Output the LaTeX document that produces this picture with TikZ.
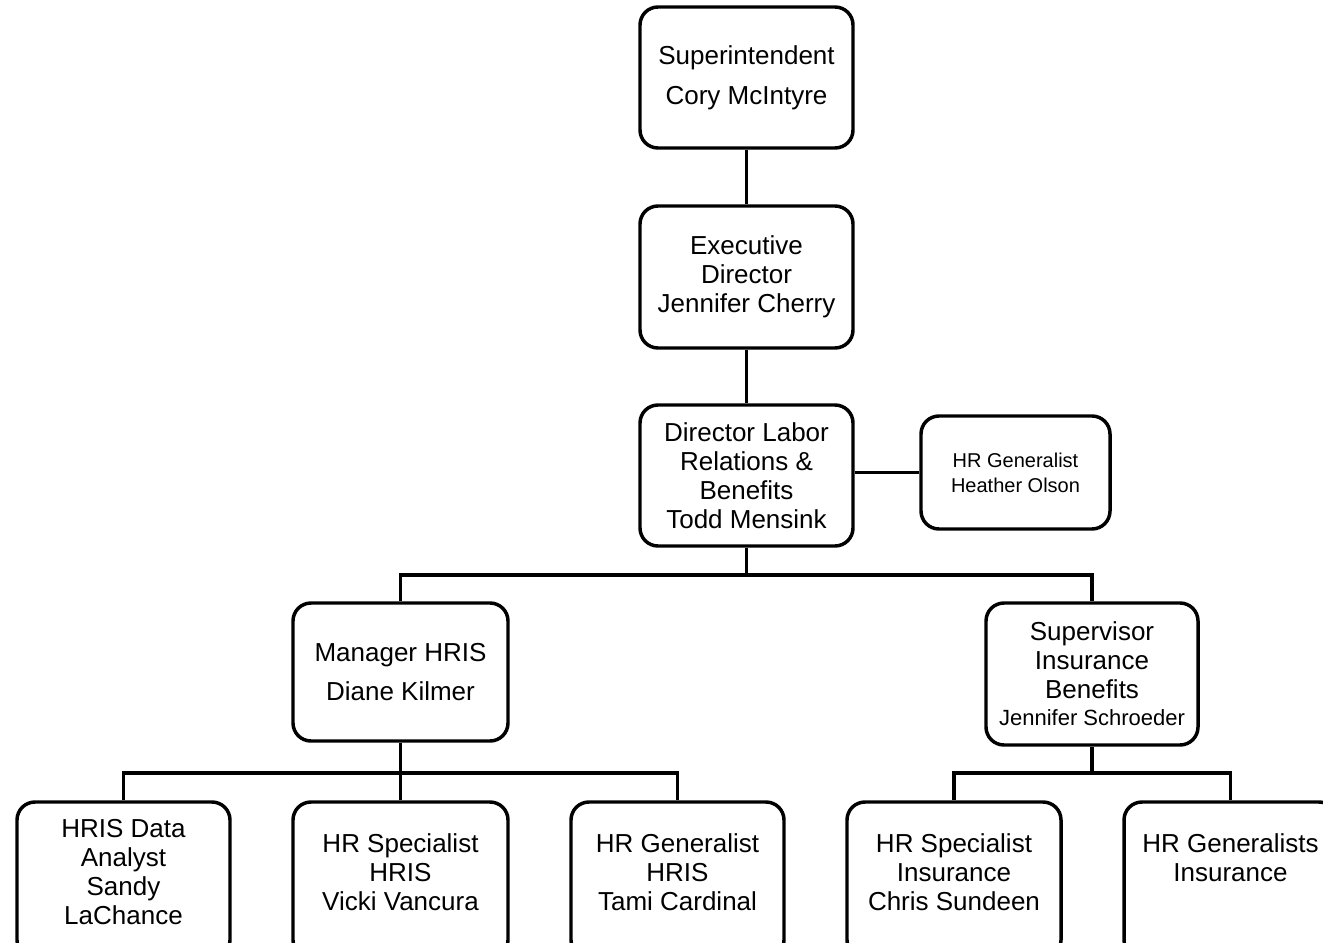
\documentclass[tikz,border=0pt]{standalone}
\usepackage{fontspec}
\setmainfont{Liberation Sans}
\begin{document}
\begin{tikzpicture}[x=0.75pt,y=-0.75pt,
  every node/.style={font=\fontsize{19.5}{21.75}\selectfont, align=center, inner sep=0pt},
  box/.style={draw=black, line width=2.6pt, rounded corners=13.5pt, fill=white},
  wide/.style={font=\fontsize{19.5}{30}\selectfont},
  small/.style={font=\fontsize{15}{18.75}\selectfont},
  link/.style={draw=black, line width=2.6pt}]
\useasboundingbox (0,0) rectangle (1323,942);
\clip (0,0) rectangle (1323,942);
% top chain
\node[box, wide, minimum width=213*0.75pt, minimum height=141*0.75pt] (sup) at (746.5,77.5)
  {Superintendent\\Cory McIntyre};
\node[box, minimum width=213*0.75pt, minimum height=142*0.75pt] (exe) at (746.5,277)
  {Executive\\Director\\Jennifer Cherry};
\node[box, minimum width=213*0.75pt, minimum height=141*0.75pt] (dir) at (746.5,475.5)
  {Director Labor\\Relations \&\\Benefits\\Todd Mensink};
\node[box, small, minimum width=189*0.75pt, minimum height=113*0.75pt] (hea) at (1015.5,472.5)
  {HR Generalist\\Heather Olson};
% middle row
\node[box, font=\fontsize{19.5}{29.25}\selectfont, minimum width=215*0.75pt, minimum height=138*0.75pt] (man) at (400.5,672)
  {Manager HRIS\\Diane Kilmer};
\node[box, minimum width=212*0.75pt, minimum height=142*0.75pt] (supv) at (1092,674)
  {Supervisor\\Insurance\\Benefits\\[-1.5pt]{\fontsize{16.5}{19.5}\selectfont Jennifer Schroeder}};
% bottom row boxes (extend past lower edge)
\node[box, minimum width=213*0.75pt, minimum height=156*0.75pt] (b1) at (123.5,880) {};
\node[box, minimum width=215*0.75pt, minimum height=156*0.75pt] (b2) at (400.5,880) {};
\node[box, minimum width=213*0.75pt, minimum height=156*0.75pt] (b3) at (677.5,880) {};
\node[box, minimum width=214*0.75pt, minimum height=156*0.75pt] (b4) at (954,880) {};
\node[box, minimum width=213*0.75pt, minimum height=156*0.75pt] (b5) at (1230.5,880) {};
\node (t1) at (123.5,872) {HRIS Data\\Analyst\\Sandy\\LaChance};
\node (t2) at (400.5,872) {HR Specialist\\HRIS\\Vicki Vancura};
\node (t3) at (677.5,872) {HR Generalist\\HRIS\\Tami Cardinal};
\node (t4) at (954,872) {HR Specialist\\Insurance\\Chris Sundeen};
\node (t5) at (1230.5,858) {HR Generalists\\Insurance};
% connectors
\coordinate (j1) at (746.5,575);
\coordinate (j2) at (400.5,773);
\coordinate (j3) at (1092,773);
\draw[link] (sup.south) -- (exe.north);
\draw[link] (exe.south) -- (dir.north);
\draw[link] (dir.east |- hea.west) -- (hea.west);
\draw[link] (dir.south) -- (j1) -| (man.north);
\draw[link] (j1) -| (supv.north);
\draw[link] (man.south) -- (j2) -| (b1.north);
\draw[link] (j2) -- (b2.north);
\draw[link] (j2) -| (b3.north);
\draw[link] (supv.south) -- (j3) -| (b4.north);
\draw[link] (j3) -| (b5.north);
\end{tikzpicture}
\end{document}
